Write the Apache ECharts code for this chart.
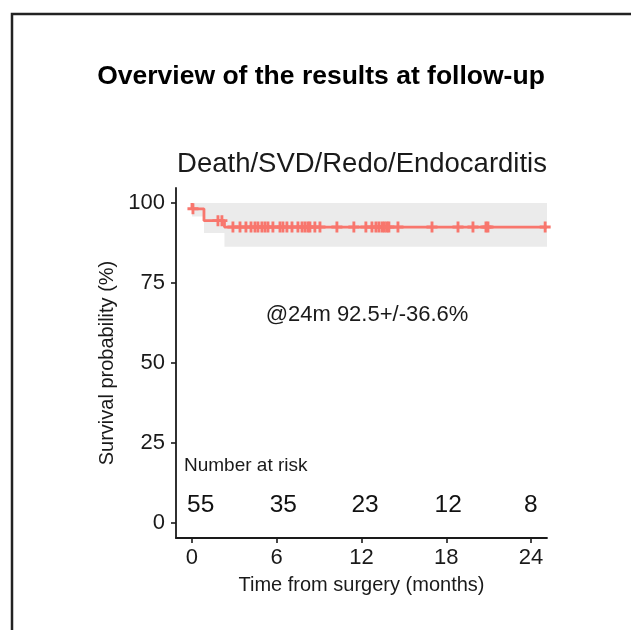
<html>
<head>
<meta charset="utf-8">
<title>Overview of the results at follow-up</title>
<script src="https://cdn.jsdelivr.net/npm/echarts@6/dist/echarts.min.js"></script>
<style>
  body { margin: 0; background: #fff; }
  #chart { width: 631px; height: 630px; }
</style>
</head>
<body>
<div id="chart"></div>
<script>
// tick labels
var xTicks = [0, 6, 12, 18, 24];
var yTicks = [0, 25, 50, 75, 100];

// Kaplan-Meier steps (time in months, survival in %)
var stepTimes = [0, 0.85, 2.3];
var survLevels = [98.2, 94.5, 92.5];
var lowerLevels = [95.8, 90.6, 86.3];
var upperLevels = [100, 100, 100];
var curveEnd = 25.13;

// censored observations
var censorTimes = [0.07, 1.84, 2.12, 2.9, 3.4, 3.82, 4.18, 4.46, 4.67, 4.95, 5.17, 5.38, 5.73,
    6.23, 6.44, 6.72, 7.08, 7.5, 7.79, 8.0, 8.21, 8.35, 8.7, 9.06, 10.26, 11.46,
    12.31, 12.74, 13.02, 13.23, 13.45, 13.62, 13.8, 13.94, 14.58, 16.99,
    18.83, 19.89, 20.81, 20.95, 25.0];

// number at risk (label positions)
var riskTimes = [0.62, 6.47, 12.25, 18.14, 23.99];
var riskCounts = [55, 35, 23, 12, 8];

var FONT = 'Liberation Sans, Arial, sans-serif';
var RED = '#F8766D';

function levelAt(t) {
    var v = 100;
    for (var i = 0; i < stepTimes.length; i++) {
        if (t >= stepTimes[i]) v = survLevels[i];
    }
    return v;
}

var survData = [[0, 100]];
var lowerData = [];
var upperData = [];
for (var i = 0; i < stepTimes.length; i++) {
    survData.push([stepTimes[i], survLevels[i]]);
    lowerData.push([stepTimes[i], lowerLevels[i]]);
    upperData.push([stepTimes[i], upperLevels[i]]);
}
var last = stepTimes.length - 1;
survData.push([curveEnd, survLevels[last]]);
lowerData.push([curveEnd, lowerLevels[last]]);
upperData.push([curveEnd, upperLevels[last]]);

var censorData = censorTimes.map(function (t) { return [t, levelAt(t)]; });
var riskData = riskTimes.map(function (t, i) { return [t, 5.6, riskCounts[i]]; });

var chart = echarts.init(document.getElementById('chart'));
var option = {
    animation: false,
    backgroundColor: '#fff',
    grid: { left: 176, right: 84, top: 188, bottom: 92, outerBoundsMode: 'none' },
    xAxis: {
        type: 'value', min: -1.13, max: 25.13, z: 10,
        name: 'Time from surgery (months)', nameLocation: 'middle', nameGap: 37,
        nameTextStyle: { fontFamily: FONT, fontSize: 20, color: '#1a1a1a' },
        axisLine: { onZero: false, lineStyle: { color: '#1a1a1a', width: 1.8 } },
        axisTick: { show: true, length: 5, customValues: xTicks, lineStyle: { color: '#1a1a1a', width: 1.6 } },
        axisLabel: { customValues: xTicks, margin: 9, fontFamily: FONT, fontSize: 22, color: '#1a1a1a' },
        splitLine: { show: false }
    },
    yAxis: {
        type: 'value', min: -4.7, max: 104.7, z: 10,
        name: 'Survival probability (%)', nameLocation: 'middle', nameGap: 59, nameRotate: 90,
        nameTextStyle: { fontFamily: FONT, fontSize: 20, color: '#1a1a1a' },
        axisLine: { show: true, onZero: false, lineStyle: { color: '#1a1a1a', width: 1.8 } },
        axisTick: { show: true, length: 5, customValues: yTicks, lineStyle: { color: '#1a1a1a', width: 1.6 } },
        axisLabel: { customValues: yTicks, margin: 11, fontFamily: FONT, fontSize: 22, color: '#1a1a1a' },
        splitLine: { show: false }
    },
    graphic: [
        { type: 'rect', shape: { x: 12, y: 14, width: 800, height: 800 }, style: { fill: 'none', stroke: '#222', lineWidth: 2.5 }, z: 100 },
        { type: 'text', z: 100, x: 321, y: 77, style: { text: 'Overview of the results at follow-up', font: 'bold 26.5px ' + FONT, fill: '#000', textAlign: 'center', textVerticalAlign: 'middle' } },
        { type: 'text', z: 100, x: 362, y: 164, style: { text: 'Death/SVD/Redo/Endocarditis', font: '27.5px ' + FONT, fill: '#1a1a1a', textAlign: 'center', textVerticalAlign: 'middle' } },
        { type: 'text', z: 100, x: 367, y: 315, style: { text: '@24m 92.5+/-36.6%', font: '22px ' + FONT, fill: '#1a1a1a', textAlign: 'center', textVerticalAlign: 'middle' } },
        { type: 'text', z: 100, x: 184, y: 466, style: { text: 'Number at risk', font: '19px ' + FONT, fill: '#1a1a1a', textAlign: 'left', textVerticalAlign: 'middle' } }
    ],
    series: [
        {
            // upper confidence limit, filled grey down to the axis
            name: 'upper', type: 'line', step: 'end', data: upperData,
            showSymbol: false, lineStyle: { opacity: 0 }, areaStyle: { color: '#EBEBEB', opacity: 1, origin: 'start' },
            silent: true, z: 1
        },
        {
            // lower confidence limit, cleared back to white below it
            name: 'lower', type: 'line', step: 'end', data: lowerData,
            showSymbol: false, lineStyle: { opacity: 0 }, areaStyle: { color: '#ffffff', opacity: 1, origin: 'start' },
            silent: true, z: 2
        },
        {
            name: 'survival', type: 'line', step: 'end', data: survData,
            showSymbol: false, lineStyle: { color: RED, width: 2.8 }, z: 3
        },
        {
            name: 'censor', type: 'scatter', data: censorData,
            symbol: 'path://M3.7,0H6.3V3.7H10V6.3H6.3V10H3.7V6.3H0V3.7H3.7Z', symbolSize: 11,
            itemStyle: { color: RED, opacity: 1 }, z: 4
        },
        {
            name: 'risk', type: 'scatter', data: riskData, symbolSize: 0,
            itemStyle: { opacity: 1 },
            label: {
                show: true, position: 'inside', opacity: 1, formatter: function (p) { return p.value[2]; },
                fontFamily: FONT, fontSize: 24.5, color: '#111'
            },
            z: 5
        }
    ]
};
chart.setOption(option);
</script>
</body>
</html>
